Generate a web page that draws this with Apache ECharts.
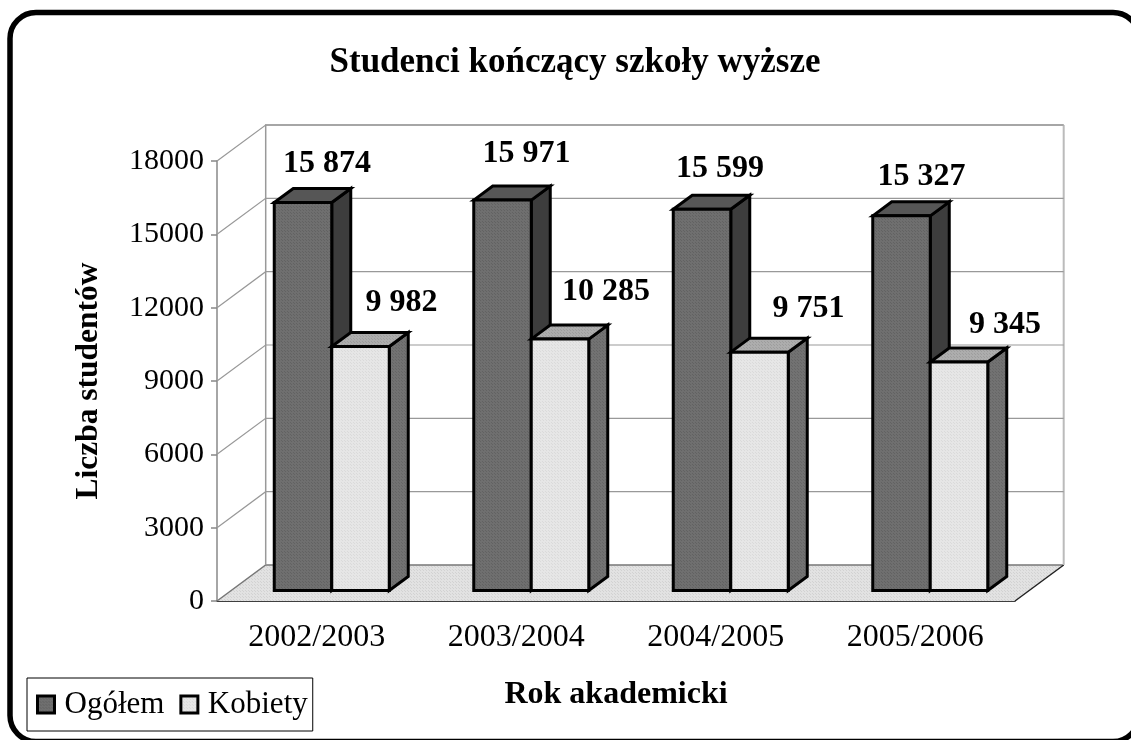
<!DOCTYPE html>
<html>
<head>
<meta charset="utf-8">
<title>Studenci kończący szkoły wyższe</title>
<script src="https://cdn.jsdelivr.net/npm/echarts@6/dist/echarts.min.js"></script>
<style>
  html, body { margin: 0; padding: 0; background: #fff; }
  #chart { width: 1131px; height: 740px; }
</style>
</head>
<body>
<div id="chart"></div>
<script>
// dane
var years = ['2002/2003', '2003/2004', '2004/2005', '2005/2006'];
var ogolem = [15874, 15971, 15599, 15327];
var kobiety = [9982, 10285, 9751, 9345];
var yTicks = [0, 3000, 6000, 9000, 12000, 15000, 18000];

// przesuniecia etykiet wzgledem gornej krawedzi slupka
var ogolemNudge = [[24, -39], [24, -46], [18, -40], [20, -39]];
var kobietyNudge = [[41, -44], [46, -47], [49, -43], [46, -37]];

var FONT = '"Liberation Serif", "Times New Roman", serif';
var WALL = [48.7, -36];      // glebokosc calego wykresu
var BAR_DEPTH = [19, -14];   // glebokosc slupka
var BAR_SHIFT = [15, -10.5]; // slupki stoja w srodku podlogi
var BAR_W = 57.5;

// drobny wzor z punktow, jak w wykresie 3D z Excela
function dither(a, b) {
  var c = document.createElement('canvas');
  c.width = 3; c.height = 3;
  var g = c.getContext('2d');
  g.fillStyle = a;
  g.fillRect(0, 0, 3, 3);
  g.fillStyle = b;
  g.fillRect(0, 0, 1, 1);
  g.fillRect(2, 2, 1, 1);
  return { image: c, repeat: 'repeat' };
}

var darkFaces = { front: dither('#6f6f6f', '#626262'), top: '#565656', side: '#3d3d3d' };
var lightFaces = { front: dither('#e6e6e6', '#dadada'), top: dither('#adadad', '#9d9d9d'), side: dither('#727272', '#666666') };
var floorFill = dither('#e2e2e2', '#d2d2d2');

function poly(points, fill, stroke, width) {
  return {
    type: 'polygon',
    shape: { points: points },
    style: { fill: fill, stroke: stroke, lineWidth: width, lineJoin: 'miter' }
  };
}

function line(points, stroke, width) {
  return {
    type: 'polyline',
    shape: { points: points },
    style: { fill: null, stroke: stroke, lineWidth: width }
  };
}

// podloga i sciana tylna
function renderFloor(params, api) {
  var cs = params.coordSys;
  var l = cs.x, r = cs.x + cs.width;
  var y0 = api.coord([0, 0])[1];
  var yTop = api.coord([0, 18000])[1];
  var bx = WALL[0], by = WALL[1];
  return {
    type: 'group',
    children: [
      poly([[l, y0], [r, y0], [r + bx, y0 + by], [l + bx, y0 + by]], floorFill, null, 0),
      line([[l, y0], [l + bx, y0 + by], [r + bx, y0 + by]], '#777777', 1.5),
      line([[r, y0], [r + bx, y0 + by]], '#222222', 1.5),
      line([[l + bx, y0 + by], [l + bx, yTop + by], [r + bx, yTop + by]], '#999999', 1.5),
      line([[r + bx, yTop + by], [r + bx, y0 + by]], '#bbbbbb', 2)
    ]
  };
}

// linie siatki: po lewej scianie i po tylnej
function renderGrid(params, api) {
  var cs = params.coordSys;
  var y = api.coord([0, api.value(0)])[1];
  if (api.value(0) === 0) return null;
  return line([
    [cs.x, y],
    [cs.x + WALL[0], y + WALL[1]],
    [cs.x + cs.width + WALL[0], y + WALL[1]]
  ], '#999999', 1.2);
}

function barRenderer(side, faces) {
  return function (params, api) {
    var c = api.coord([api.value(0), api.value(1)]);
    var base = api.coord([api.value(0), 0])[1] + BAR_SHIFT[1];
    var top = c[1] + BAR_SHIFT[1];
    var x0 = c[0] + BAR_SHIFT[0] + (side < 0 ? -BAR_W : 0);
    var x1 = x0 + BAR_W;
    var dx = BAR_DEPTH[0], dy = BAR_DEPTH[1];
    var k = 3;
    return {
      type: 'group',
      children: [
        poly([[x1, top], [x1 + dx, top + dy], [x1 + dx, base + dy], [x1, base]], faces.side, '#000', k),
        poly([[x0, top], [x0 + dx, top + dy], [x1 + dx, top + dy], [x1, top]], faces.top, '#000', k),
        poly([[x0, top], [x1, top], [x1, base], [x0, base]], faces.front, '#000', k)
      ]
    };
  };
}

function labelRenderer(side, nudge) {
  return function (params, api) {
    var c = api.coord([api.value(0), api.value(1)]);
    var n = nudge[params.dataIndex];
    var cx = c[0] + BAR_SHIFT[0] + side * BAR_W / 2;
    var txt = String(api.value(1)).replace(/(\d)(\d{3})$/, '$1 $2');
    return {
      type: 'text',
      style: {
        x: cx + n[0],
        y: c[1] + BAR_SHIFT[1] + n[1],
        text: txt,
        fill: '#000',
        font: 'bold 32px ' + FONT,
        align: 'center',
        verticalAlign: 'middle'
      }
    };
  };
}

function rows(values) {
  return values.map(function (v, i) { return [i, v]; });
}

var chart = echarts.init(document.getElementById('chart'));

chart.setOption({
  animation: false,
  backgroundColor: '#fff',
  title: {
    text: 'Studenci kończący szkoły wyższe',
    left: 570,
    top: 40,
    textAlign: 'center',
    textStyle: { fontFamily: FONT, fontWeight: 'bold', fontSize: 35, color: '#000' }
  },
  legend: {
    left: 27,
    top: 678,
    padding: [11, 5, 11, 9],
    itemGap: 15,
    itemWidth: 17,
    itemHeight: 17,
    borderColor: '#000',
    borderWidth: 1,
    backgroundColor: '#fff',
    textStyle: { fontFamily: FONT, fontSize: 31, color: '#000', padding: [0, 0, 0, 5] },
    data: [
      { name: 'Ogółem', icon: 'rect', itemStyle: { color: darkFaces.front, borderColor: '#000', borderWidth: 3 } },
      { name: 'Kobiety', icon: 'rect', itemStyle: { color: lightFaces.front, borderColor: '#000', borderWidth: 3 } }
    ]
  },
  grid: { left: 217, right: 116, top: 161, bottom: 139 },
  xAxis: {
    type: 'category',
    data: years,
    name: 'Rok akademicki',
    nameLocation: 'middle',
    nameGap: 78,
    nameTextStyle: { fontFamily: FONT, fontWeight: 'bold', fontSize: 32, color: '#000' },
    axisLine: { lineStyle: { color: '#000', width: 1.5 } },
    axisTick: { alignWithLabel: false, length: 8, lineStyle: { color: '#333', width: 1.5 } },
    axisLabel: { fontFamily: FONT, fontSize: 32, color: '#000', margin: 21 }
  },
  yAxis: {
    type: 'value',
    min: 0,
    max: 18000,
    interval: 3000,
    name: 'Liczba studentów',
    nameLocation: 'middle',
    nameRotate: 90,
    nameGap: 112,
    nameTextStyle: { fontFamily: FONT, fontWeight: 'bold', fontSize: 31.5, color: '#000' },
    splitLine: { show: false },
    axisLine: { show: true, lineStyle: { color: '#888', width: 1.5 } },
    axisTick: { show: true, length: 6, lineStyle: { color: '#888', width: 1.5 } },
    axisLabel: { fontFamily: FONT, fontSize: 30, color: '#000', margin: 13, formatter: function (v) { return String(v); } }
  },
  graphic: [{
    type: 'rect',
    silent: true,
    z: 100,
    shape: { x: 10, y: 12.5, width: 1129, height: 729, r: 26 },
    style: { fill: null, stroke: '#000', lineWidth: 5.5 }
  }],
  series: [
    { name: 'floor', type: 'custom', z: 1, silent: true, renderItem: renderFloor, data: [[0, 0]] },
    { name: 'grid', type: 'custom', z: 2, silent: true, renderItem: renderGrid, encode: { x: -1, y: 0 }, data: yTicks.map(function (t) { return [t]; }) },
    { name: 'Ogółem', type: 'custom', z: 3, silent: true, renderItem: barRenderer(-1, darkFaces), data: rows(ogolem), itemStyle: { color: '#6f6f6f' } },
    { name: 'Kobiety', type: 'custom', z: 4, silent: true, renderItem: barRenderer(1, lightFaces), data: rows(kobiety), itemStyle: { color: '#e6e6e6' } },
    { name: 'etykiety1', type: 'custom', z: 5, silent: true, renderItem: labelRenderer(-1, ogolemNudge), data: rows(ogolem) },
    { name: 'etykiety2', type: 'custom', z: 5, silent: true, renderItem: labelRenderer(1, kobietyNudge), data: rows(kobiety) }
  ]
});
</script>
</body>
</html>
